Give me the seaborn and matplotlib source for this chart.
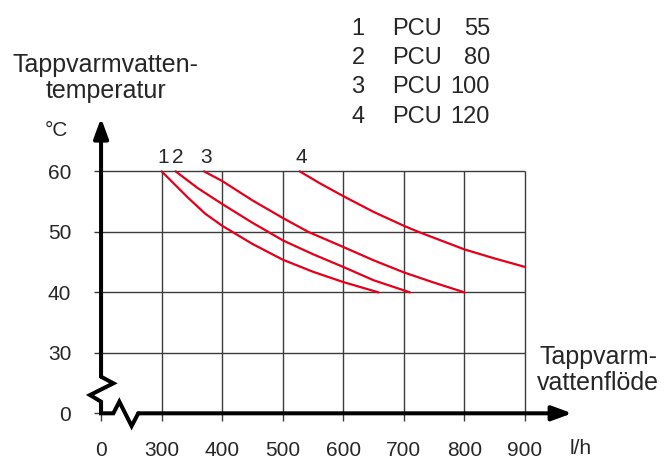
import matplotlib
matplotlib.use("Agg")
import matplotlib.pyplot as plt
import seaborn as sns
import pandas as pd

# curves: flow (l/h) and hot water temperature (°C)
flow_1 = [300, 322, 344, 372, 400, 450, 500, 550, 600, 658]
temp_1 = [60, 57.8, 55.6, 53.0, 51.0, 48.0, 45.4, 43.4, 41.7, 40]
flow_2 = [323, 360, 400, 450, 476, 500, 550, 600, 650, 710]
temp_2 = [60, 57.2, 54.6, 51.5, 50, 48.6, 46.3, 44.2, 42.0, 40]
flow_3 = [370, 400, 450, 500, 542, 600, 650, 700, 750, 800]
temp_3 = [60, 58.4, 55.2, 52.3, 50, 47.5, 45.3, 43.3, 41.6, 40]
flow_4 = [528, 560, 600, 650, 700, 724, 800, 850, 900]
temp_4 = [60, 58.1, 55.9, 53.3, 51.0, 50, 47.1, 45.6, 44.2]

curve_ids = ["1", "2", "3", "4"]
models = ["55", "80", "100", "120"]

x_ticks = [300, 400, 500, 600, 700, 800, 900]
y_ticks = [30, 40, 50, 60]

# broken axes: the "0" is drawn one grid step before the first real tick
X_ZERO = 200
Y_ZERO = 20

frames = []
for cid, fx, ty in zip(curve_ids, [flow_1, flow_2, flow_3, flow_4],
                       [temp_1, temp_2, temp_3, temp_4]):
    frames.append(pd.DataFrame({"flow": fx, "temp": ty, "curve": cid}))
df = pd.concat(frames, ignore_index=True)

sns.set_style("white")
plt.rcParams["font.family"] = ["Liberation Sans", "DejaVu Sans"]

W, H = 664, 459
fig = plt.figure(figsize=(W / 100, H / 100), dpi=100)
ax = fig.add_axes([0.1294, 0.0468, 0.7386, 0.7118])
ax.set_xlim(175, 985)
ax.set_ylim(16, 70)
for s in ax.spines.values():
    s.set_visible(False)

red = "#e2001a"
grid_c = "#3c3c3c"

# grid, with the little tick stubs sticking out past the axes
ax.vlines(x_ticks, Y_ZERO - 1.2, max(y_ticks), color=grid_c, lw=1)
ax.hlines(y_ticks, X_ZERO - 11.6, max(x_ticks), color=grid_c, lw=1)
ax.vlines([X_ZERO], Y_ZERO - 1.2, Y_ZERO, color=grid_c, lw=1)
ax.hlines([Y_ZERO], X_ZERO - 11.6, X_ZERO, color=grid_c, lw=1)

sns.lineplot(data=df, x="flow", y="temp", hue="curve", units="curve",
             estimator=None, sort=False, palette=[red] * 4, lw=1.6,
             legend=False, ax=ax)

# curve numbers above each start point
for cid, fx in zip(curve_ids, [flow_1, flow_2, flow_3, flow_4]):
    ax.text(fx[0] + 3, 62.2, cid, ha="center", va="center", fontsize=15)

# axis lines with break zigzags
yz = [(200, 26.05), (220.3, 24.96), (181.8, 23.02), (200, 21.92), (200, 20),
      (220.3, 20), (230.2, 21.92), (250.5, 17.9), (261.4, 20)]
ax.plot([p[0] for p in yz], [p[1] for p in yz], color="k", lw=2.9,
        solid_joinstyle="miter", clip_on=False)
arrow = dict(arrowstyle="-|>,head_length=0.6,head_width=0.22", lw=2.9,
             color="k", mutation_scale=20, shrinkA=0, shrinkB=0)
ax.annotate("", xy=(200, 68.8), xytext=(200, 26.05), arrowprops=arrow)
ax.annotate("", xy=(978, 20), xytext=(261.4, 20), arrowprops=arrow)

ax.set_xticks([X_ZERO] + x_ticks, ["0"] + [str(v) for v in x_ticks])
ax.set_yticks([Y_ZERO] + y_ticks, ["0"] + [str(v) for v in y_ticks])
ax.tick_params(axis="both", length=0, labelsize=15)
ax.tick_params(axis="x", pad=2.5)
ax.tick_params(axis="y", pad=10.5)
ax.set_xlabel("")
ax.set_ylabel("")


def fx_(px):
    return px / W


def fy_(py):
    return 1 - py / H


fig.text(fx_(580.5), fy_(449), "l/h", ha="center", va="center", fontsize=15)
fig.text(fx_(56), fy_(130), "°C", ha="center", va="center", fontsize=15)
fig.text(fx_(106), fy_(78), "Tappvarmvatten-\ntemperatur", ha="center",
         va="center", fontsize=18, linespacing=1.15)
fig.text(fx_(598), fy_(370), "Tappvarm-\nvattenflöde", ha="center",
         va="center", fontsize=18, linespacing=1.15)

# model key
for i, (cid, m) in enumerate(zip(curve_ids, models)):
    yy = fy_(29 + i * 29.2)
    fig.text(fx_(358), yy, cid, ha="center", va="center", fontsize=17)
    fig.text(fx_(392), yy, "PCU", ha="left", va="center", fontsize=17)
    fig.text(fx_(490), yy, m, ha="right", va="center", fontsize=17)

fig.savefig("out.png", dpi=100)
